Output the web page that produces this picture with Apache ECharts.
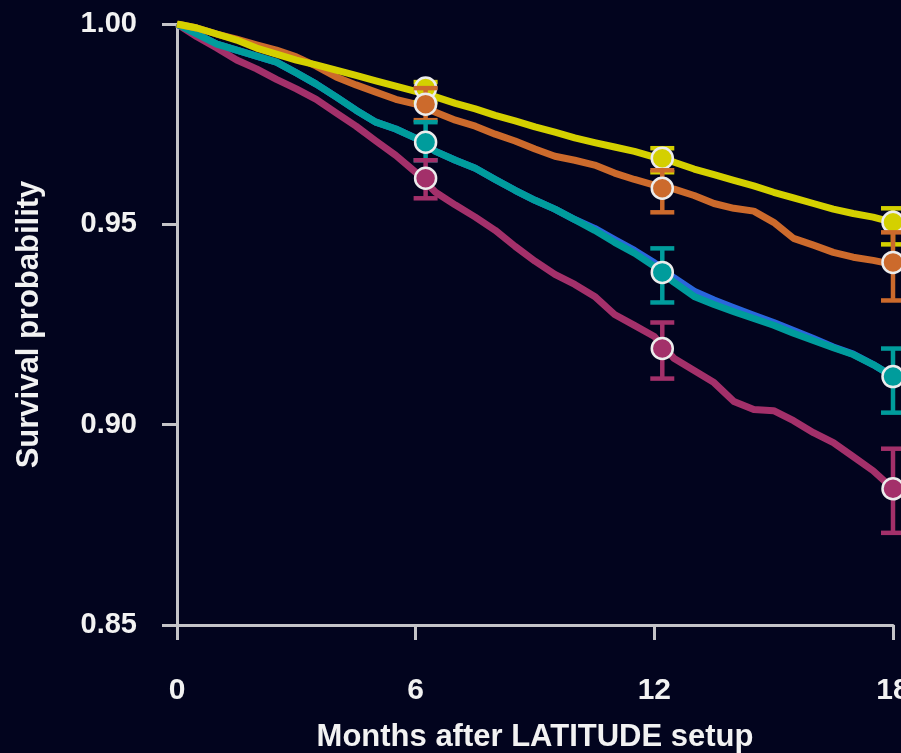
<!DOCTYPE html>
<html>
<head>
<meta charset="utf-8">
<script src="https://cdn.jsdelivr.net/npm/echarts@6/dist/echarts.min.js"></script>
<style>
html,body{margin:0;padding:0;background:#02041e;overflow:hidden;width:901px;height:753px;}
#chart{width:901px;height:753px;}
</style>
</head>
<body>
<div id="chart"></div>
<script>
// ---- data ----
const months = [0,0.5,1,1.5,2,2.5,3,3.5,4,4.5,5,5.5,6,6.5,7,7.5,8,8.5,9,9.5,10,10.5,11,11.5,12,12.5,13,13.5,14,14.5,15,15.5,16,16.5,17,17.5,18];
const yellow  = [1.000,0.9990,0.9975,0.9960,0.9940,0.9925,0.9910,0.9898,0.9885,0.9872,0.9858,0.9845,0.9832,0.9818,0.9802,0.9788,0.9772,0.9758,0.9743,0.9730,0.9716,0.9704,0.9693,0.9682,0.9668,0.9655,0.9638,0.9624,0.9610,0.9596,0.9580,0.9566,0.9552,0.9538,0.9527,0.9518,0.9505];
const orange  = [1.000,0.9990,0.9975,0.9962,0.9948,0.9935,0.9918,0.9895,0.9868,0.9848,0.9830,0.9812,0.9800,0.9780,0.9760,0.9745,0.9725,0.9708,0.9688,0.9670,0.9660,0.9648,0.9628,0.9612,0.9598,0.9588,0.9572,0.9552,0.9540,0.9533,0.9505,0.9465,0.9448,0.9430,0.9418,0.9410,0.9400];
const teal    = [1.000,0.9975,0.9950,0.9935,0.9920,0.9905,0.9878,0.9850,0.9818,0.9785,0.9755,0.9738,0.9715,0.9682,0.9660,0.9640,0.9612,0.9585,0.9560,0.9538,0.9512,0.9485,0.9455,0.9428,0.9395,0.9355,0.9320,0.9300,0.9282,0.9265,0.9248,0.9228,0.9210,0.9192,0.9175,0.9150,0.9120];
const blue    = [1.000,0.9975,0.9950,0.9935,0.9920,0.9905,0.9878,0.9850,0.9818,0.9785,0.9755,0.9738,0.9715,0.9682,0.9660,0.9640,0.9612,0.9585,0.9560,0.9538,0.9512,0.9490,0.9462,0.9435,0.9404,0.9366,0.9333,0.9311,0.9292,0.9273,0.9255,0.9235,0.9215,0.9194,0.9176,0.9150,0.9120];
const magenta = [1.000,0.9968,0.9940,0.9910,0.9888,0.9862,0.9838,0.9812,0.9778,0.9745,0.9708,0.9672,0.9630,0.9580,0.9548,0.9518,0.9485,0.9445,0.9408,0.9375,0.9350,0.9320,0.9275,0.9248,0.9220,0.9165,0.9135,0.9105,0.9058,0.9038,0.9035,0.9010,0.8980,0.8955,0.8920,0.8885,0.8840];

// error bars: month, estimate, low, high
const ebMonths = [6.25, 12.2, 18];
const yellowEst = [0.9840, 0.9665, 0.9505], yellowLo = [0.9805, 0.9630, 0.9450], yellowHi = [0.9855, 0.9690, 0.9540];
const orangeEst = [0.9800, 0.9590, 0.9405], orangeLo = [0.9760, 0.9530, 0.9310], orangeHi = [0.9840, 0.9635, 0.9480];
const tealEst   = [0.9705, 0.9380, 0.9120], tealLo   = [0.9660, 0.9305, 0.9030], tealHi   = [0.9755, 0.9440, 0.9190];
const magEst    = [0.9615, 0.9190, 0.8840], magLo    = [0.9565, 0.9115, 0.8730], magHi    = [0.9660, 0.9255, 0.8940];

const xTicks = [0, 6, 12, 18];
const yTicks = [0.85, 0.90, 0.95, 1.00];

// ---- styles ----
const C = {yellow:'#d4d000', orange:'#cc6a2c', teal:'#009c9c', blue:'#2a66dc', magenta:'#a3306a'};
const BG = '#02041e', AX = '#c4c4c8', TXT = '#f2f2f2';
const FONT = '"Liberation Sans", Arial, sans-serif';

function pairs(ys){ return months.map((m,i)=>[m, ys[i]]); }
function lineSeries(name, ys, color, w){
  return {name, type:'line', data:pairs(ys), showSymbol:false, symbol:'none',
    lineStyle:{color, width:w||7, join:'round'}, itemStyle:{color}, silent:true, animation:false};
}
function ebSeries(name, est, lo, hi, color){
  return {name:name+'_eb', type:'custom', animation:false, silent:true, clip:false, z:5,
    data: ebMonths.map((m,i)=>[m, lo[i], hi[i], est[i]]),
    renderItem(params, api){
      const x = api.value(0);
      const pLo = api.coord([x, api.value(1)]);
      const pHi = api.coord([x, api.value(2)]);
      const pE  = api.coord([x, api.value(3)]);
      const cw = 12;
      const st = {stroke:color, lineWidth:4.5};
      return {type:'group', children:[
        {type:'line', shape:{x1:pLo[0], y1:pLo[1], x2:pHi[0], y2:pHi[1]}, style:st},
        {type:'line', shape:{x1:pLo[0]-cw, y1:pLo[1], x2:pLo[0]+cw, y2:pLo[1]}, style:st},
        {type:'line', shape:{x1:pHi[0]-cw, y1:pHi[1], x2:pHi[0]+cw, y2:pHi[1]}, style:st},
        {type:'circle', shape:{cx:pE[0], cy:pE[1], r:10.5}, style:{fill:color, stroke:'#ececec', lineWidth:2.5}}
      ]};
    }
  };
}

const chart = echarts.init(document.getElementById('chart'), null, {renderer:'canvas', width:901, height:753});
chart.setOption({
  backgroundColor: BG,
  animation:false,
  grid:{left:177, top:24, right:8, bottom:128, containLabel:false, outerBoundsMode:'none'},
  xAxis:{
    type:'value', min:0, max:18, interval:6,
    name:'Months after LATITUDE setup', nameLocation:'middle', nameGap:97,
    nameTextStyle:{color:TXT, fontSize:31, fontWeight:'bold', fontFamily:FONT},
    axisLine:{show:true, lineStyle:{color:AX, width:3}},
    axisTick:{show:true, length:15, lineStyle:{color:AX, width:3}},
    axisLabel:{color:TXT, fontSize:30, fontWeight:'bold', fontFamily:FONT, margin:51,
      formatter:v=> xTicks.includes(v) ? String(v) : ''},
    splitLine:{show:false}
  },
  yAxis:{
    type:'value', min:0.85, max:1.0, interval:0.05,
    name:'Survival probability', nameLocation:'middle', nameGap:132,
    nameTextStyle:{color:TXT, fontSize:31, fontWeight:'bold', fontFamily:FONT},
    axisLine:{show:true, lineStyle:{color:AX, width:3}},
    axisTick:{show:true, length:15, lineStyle:{color:AX, width:3}},
    axisLabel:{color:TXT, fontSize:29, fontWeight:'bold', fontFamily:FONT, margin:40,
      formatter:v=>{ const t = yTicks.find(k=>Math.abs(k-v)<1e-6); return t===undefined ? '' : t.toFixed(2); }},
    splitLine:{show:false}
  },
  series:[
    lineSeries('blue', blue, C.blue, 7),
    lineSeries('magenta', magenta, C.magenta),
    lineSeries('teal', teal, C.teal),
    lineSeries('orange', orange, C.orange),
    lineSeries('yellow', yellow, C.yellow),
    ebSeries('yellow', yellowEst, yellowLo, yellowHi, C.yellow),
    ebSeries('orange', orangeEst, orangeLo, orangeHi, C.orange),
    ebSeries('teal', tealEst, tealLo, tealHi, C.teal),
    ebSeries('magenta', magEst, magLo, magHi, C.magenta)
  ]
});
</script>
</body>
</html>
